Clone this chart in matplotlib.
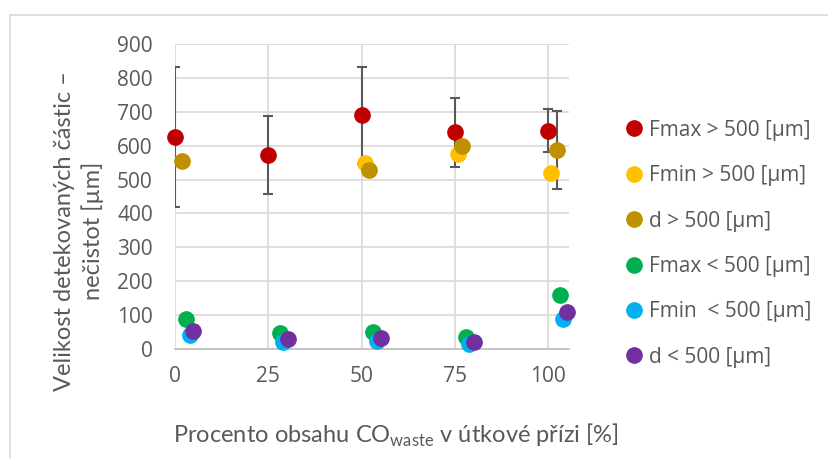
import matplotlib.pyplot as plt
from matplotlib.patches import Rectangle

# Hodnoty
x_fmax_hi = [0, 25, 50, 75, 100]
y_fmax_hi = [626, 573, 690, 640, 644]
err_fmax_hi = [207, 115, 143, 102, 63]

x_fmin_hi = [51, 75.7, 100.8]
y_fmin_hi = [549, 575, 520]

x_d_hi = [2, 52, 77, 102.4]
y_d_hi = [555, 528, 598, 587]
err_d_hi = [0, 0, 0, 115]

x_fmax_lo = [3, 28, 53, 78, 103.1]
y_fmax_lo = [88, 46, 49, 34, 159]

x_fmin_lo = [3.9, 29, 54, 78.9, 103.9]
y_fmin_lo = [41, 22, 24, 15, 90]

x_d_lo = [4.9, 30.2, 55.1, 80.2, 105]
y_d_lo = [54, 29, 31, 22, 108]

labels = ["Fmax > 500 [µm]", "Fmin > 500 [µm]", "d > 500 [µm]",
          "Fmax < 500 [µm]", "Fmin  < 500 [µm]", "d < 500 [µm]"]
colors = ["#C00000", "#FFC000", "#BF9000", "#00B050", "#00B0F0", "#7030A0"]
x_ticks = [0, 25, 50, 75, 100]
y_ticks = [0, 100, 200, 300, 400, 500, 600, 700, 800, 900]

W, H = 829, 458
text_col = "#595959"
tick_font = "Open Sans"
title_font = "Lato"

fig = plt.figure(figsize=(W / 100, H / 100), dpi=100)
fig.patches.append(Rectangle((10 / W, -0.1), 1.2, (H - 15) / H + 0.1, transform=fig.transFigure,
                             fill=False, edgecolor="#d9d9d9", linewidth=1.2))

ax = fig.add_axes([175 / W, (H - 349) / H, (569.5 - 175) / W, (349 - 44) / H])

ms = 11
eb_style = dict(fmt="none", ecolor="#595959", elinewidth=1.5, capsize=3.6, capthick=1.5, zorder=2)

# chybove usecky zvlast, body navrch
ax.errorbar(x_fmax_hi, y_fmax_hi, yerr=err_fmax_hi, **eb_style)
series = [(x_fmax_hi, y_fmax_hi), (x_fmin_hi, y_fmin_hi), (x_d_hi, y_d_hi),
          (x_fmax_lo, y_fmax_lo), (x_fmin_lo, y_fmin_lo), (x_d_lo, y_d_lo)]
handles = []
for i, (xs, ys) in enumerate(series):
    if i == 2:
        ax.errorbar(xs, ys, yerr=err_d_hi, **eb_style)
    h, = ax.plot(xs, ys, "o", color=colors[i], ms=ms, label=labels[i], zorder=3, clip_on=False)
    handles.append(h)

ax.set_xlim(0, 105.7)
ax.set_ylim(0, 900)
ax.set_xticks(x_ticks)
ax.set_yticks(y_ticks)
ax.grid(True, color="#d9d9d9", linewidth=1.2)
ax.set_axisbelow(True)
for s in ["top", "right", "left"]:
    ax.spines[s].set_visible(False)
ax.spines["bottom"].set_color("#bfbfbf")
ax.spines["bottom"].set_linewidth(1.2)
ax.tick_params(length=0, labelcolor=text_col, labelsize=15)
ax.tick_params(axis="y", pad=16)
ax.tick_params(axis="x", pad=12)
for lab in ax.get_xticklabels() + ax.get_yticklabels():
    lab.set_fontfamily(tick_font)

fig.text(79 / W, 1 - 231 / H, "Velikost detekovaných částic –\nnečistot [µm]", rotation=90,
         ha="center", va="center", fontsize=17, color=text_col, family=title_font,
         linespacing=1.3)
fig.text(396 / W, 1 - 435 / H, "Procento obsahu CO$_{\\mathregular{waste}}$ v útkové přízi [%]",
         ha="center", va="center", fontsize=17, color=text_col, family=title_font)

leg = ax.legend(handles=handles, loc="upper left", bbox_to_anchor=(607 / W, 1 - 101 / H),
                bbox_transform=fig.transFigure, frameon=False, handlelength=0.8,
                handletextpad=0.3, labelspacing=1.17, prop={"family": tick_font, "size": 15})
for t in leg.get_texts():
    t.set_color(text_col)

fig.savefig("out.png", dpi=100)
